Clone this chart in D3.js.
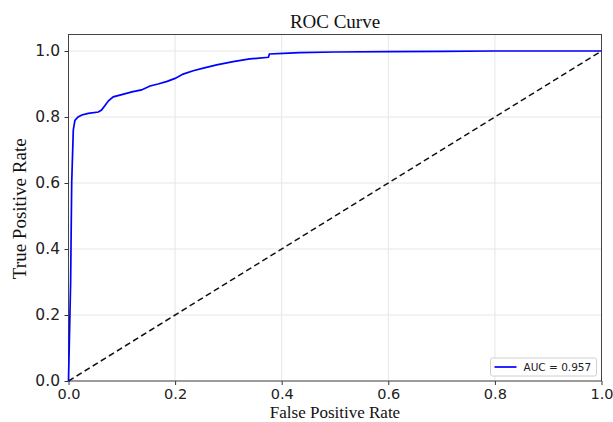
<!DOCTYPE html>
<html>
<head>
<meta charset="utf-8">
<script src="https://cdn.jsdelivr.net/npm/d3@7"></script>
<style>
body { margin: 0; background: #fff; }
</style>
</head>
<body>
<script>
// roc points
var fpr = [0, 0.004, 0.006, 0.009, 0.012, 0.018, 0.025, 0.037, 0.056, 0.062, 0.075, 0.084, 0.1, 0.119, 0.137, 0.153, 0.168, 0.185, 0.2, 0.215, 0.234, 0.253, 0.278, 0.309, 0.34, 0.375, 0.377, 0.403, 0.434, 0.5, 0.6, 0.7, 0.8, 1.0];
var tpr = [0, 0.3, 0.6, 0.76, 0.79, 0.8, 0.806, 0.811, 0.815, 0.821, 0.849, 0.861, 0.868, 0.876, 0.882, 0.894, 0.9, 0.908, 0.917, 0.93, 0.94, 0.948, 0.958, 0.968, 0.976, 0.981, 0.991, 0.993, 0.995, 0.997, 0.998, 0.999, 1.0, 1.0];
var ticks = [0, 0.2, 0.4, 0.6, 0.8, 1.0];
var aucLabel = "AUC = 0.957";

var margin = {top: 34.5, right: 11.5, bottom: 41, left: 68.5},
    width = 613 - margin.left - margin.right,
    height = 422 - margin.top - margin.bottom;

var svg = d3.select("body").append("svg").attr("width", 613).attr("height", 422);
var g = svg.append("g").attr("transform", "translate(" + margin.left + "," + margin.top + ")");

var x = d3.scaleLinear().domain([0, 1]).range([0, width]);
var y = d3.scaleLinear().domain([0, 1.05]).range([height, 0]);

//grid
g.selectAll(".gx").data(ticks).enter().append("line")
	.attr("x1", function(d){ return x(d); }).attr("x2", function(d){ return x(d); })
	.attr("y1", 0).attr("y2", height)
	.attr("stroke", "#e6e6e6").attr("stroke-width", 1);
g.selectAll(".gy").data(ticks).enter().append("line")
	.attr("x1", 0).attr("x2", width)
	.attr("y1", function(d){ return y(d); }).attr("y2", function(d){ return y(d); })
	.attr("stroke", "#e6e6e6").attr("stroke-width", 1);

var xAxis = g.append("g").attr("transform", "translate(0," + height + ")")
	.call(d3.axisBottom(x).tickValues(ticks).tickFormat(d3.format(".1f")).tickSize(4).tickPadding(4).tickSizeOuter(0));
var yAxis = g.append("g")
	.call(d3.axisLeft(y).tickValues(ticks).tickFormat(d3.format(".1f")).tickSize(4).tickPadding(4.5).tickSizeOuter(0));
[xAxis, yAxis].forEach(function(a){
	a.select(".domain").remove();
	a.selectAll("line").attr("stroke", "#333");
	a.selectAll("text").attr("font-family", "DejaVu Sans").attr("font-size", 15.5).attr("fill", "#222");
});
xAxis.selectAll("text").attr("font-size", 14.5);

// frame
g.append("rect").attr("width", width).attr("height", height)
	.attr("fill", "none").attr("stroke", "#444").attr("stroke-width", 1);

// chance line
g.append("line")
	.attr("x1", x(0)).attr("y1", y(0)).attr("x2", x(1)).attr("y2", y(1))
	.attr("stroke", "#111").attr("stroke-width", 1.5).attr("stroke-dasharray", "6,3.5");

var line = d3.line().x(function(d, i){ return x(fpr[i]); }).y(function(d, i){ return y(tpr[i]); });
g.append("path").datum(fpr).attr("d", line)
	.attr("fill", "none").attr("stroke", "#0000ff").attr("stroke-width", 1.7);

// legend
var lg = g.append("g").attr("transform", "translate(" + (width - 111) + "," + (height - 23) + ")");
lg.append("rect").attr("width", 106).attr("height", 18).attr("rx", 2)
	.attr("fill", "#fff").attr("stroke", "#d0d0d0");
lg.append("line").attr("x1", 4).attr("x2", 26).attr("y1", 9).attr("y2", 9)
	.attr("stroke", "#0000ff").attr("stroke-width", 1.7);
lg.append("text").attr("x", 33).attr("y", 13).text(aucLabel)
	.attr("font-family", "DejaVu Sans").attr("font-size", 10.5).attr("fill", "#222");

// titles
svg.append("text").attr("x", margin.left + width / 2).attr("y", 28).attr("text-anchor", "middle")
	.attr("font-family", "Liberation Serif").attr("font-size", 19).attr("fill", "#111").text("ROC Curve");
svg.append("text").attr("x", margin.left + width / 2).attr("y", 418).attr("text-anchor", "middle")
	.attr("font-family", "Liberation Serif").attr("font-size", 17).attr("fill", "#111").text("False Positive Rate");
svg.append("text").attr("transform", "translate(25.5," + (margin.top + height / 2 + 1) + ") rotate(-90)")
	.attr("text-anchor", "middle")
	.attr("font-family", "Liberation Serif").attr("font-size", 19).attr("fill", "#111").text("True Positive Rate");
</script>
</body>
</html>
